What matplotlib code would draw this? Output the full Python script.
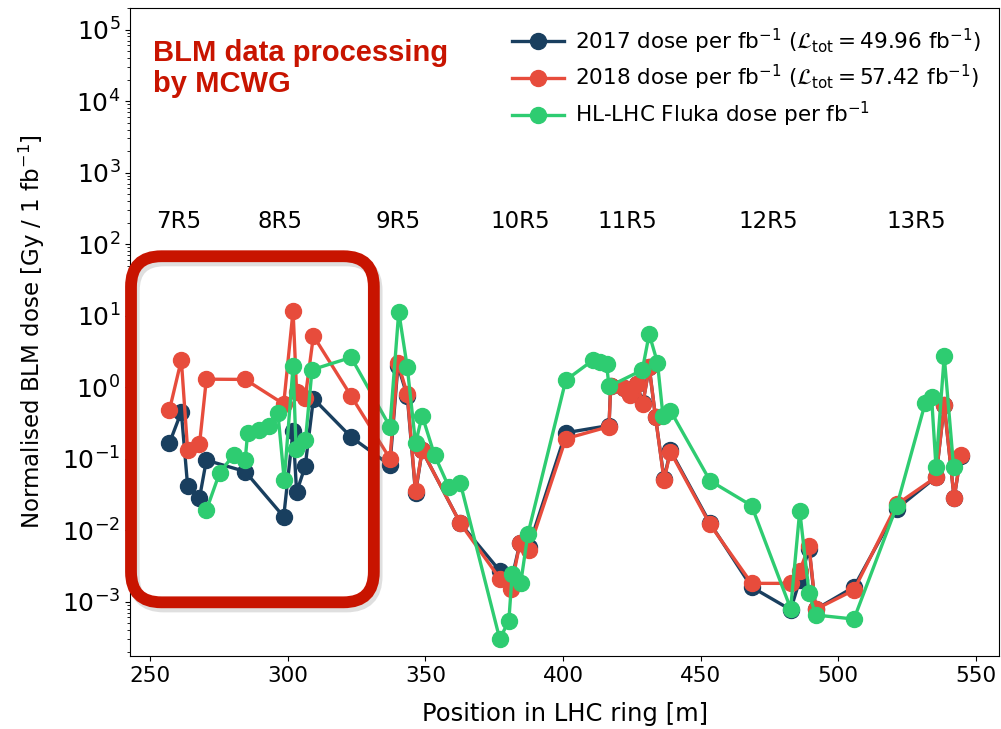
import matplotlib
matplotlib.use('Agg')
import matplotlib.pyplot as plt
from matplotlib.patches import FancyBboxPatch
from matplotlib.transforms import ScaledTranslation

# BLM positions shared by the 2017 and 2018 measurements [m]
pos_blm = [257.0, 261.3, 263.6, 267.9, 270.4, 284.5, 298.5, 301.9, 303.2, 306.3,
           309.3, 323.0, 337.1, 340.0, 343.4, 346.4, 348.8, 362.7, 377.0, 381.0,
           384.3, 387.5, 401.0, 416.7, 417.3, 422.0, 424.5, 426.8, 429.0, 431.3,
           433.6, 436.7, 439.0, 453.4, 468.5, 482.7, 486.0, 489.4, 491.8, 505.7,
           521.3, 535.5, 538.5, 542.1, 544.5]

dose_2017 = [0.166, 0.45, 0.041, 0.028, 0.095, 0.066, 0.0154, 0.245, 0.034, 0.078,
             0.69, 0.20, 0.081, 2.0, 0.75, 0.033, 0.13, 0.0124, 0.0027, 0.0018,
             0.0065, 0.0058, 0.23, 0.29, 1.05, 0.97, 0.80, 1.1, 0.60, 1.9,
             0.38, 0.052, 0.13, 0.0125, 0.0016, 0.00077, 0.002, 0.0055, 0.00078, 0.0016,
             0.020, 0.055, 0.56, 0.028, 0.11]

dose_2018 = [0.48, 2.4, 0.13, 0.158, 1.29, 1.28, 0.58, 11.7, 0.85, 0.70,
             5.2, 0.75, 0.10, 2.2, 0.80, 0.035, 0.13, 0.0124, 0.0021, 0.0015,
             0.0065, 0.0052, 0.19, 0.28, 1.05, 0.96, 0.78, 1.1, 0.58, 1.9,
             0.38, 0.050, 0.125, 0.012, 0.0018, 0.0018, 0.0027, 0.006, 0.00078, 0.00145,
             0.023, 0.055, 0.56, 0.028, 0.112]

# FLUKA simulation positions and values
pos_fluka = [270.4, 275.2, 280.3, 284.5, 285.4, 289.4, 293.0, 296.4, 298.7, 301.9,
             303.0, 306.4, 308.8, 323.0, 337.1, 340.3, 343.4, 346.4, 348.8, 353.3,
             358.5, 362.7, 377.0, 380.3, 381.5, 384.6, 387.2, 401.0, 411.0, 413.5,
             415.8, 416.7, 428.8, 431.3, 434.3, 436.3, 439.0, 453.4, 468.5, 482.7,
             486.0, 489.4, 491.8, 505.7, 521.3, 531.6, 533.9, 535.5, 538.5, 541.9]

dose_fluka = [0.019, 0.063, 0.113, 0.095, 0.23, 0.25, 0.29, 0.43, 0.05, 1.95,
              0.138, 0.18, 1.75, 2.6, 0.28, 11.3, 1.9, 0.163, 0.40, 0.112,
              0.040, 0.045, 0.0003, 0.00054, 0.0024, 0.0018, 0.0087, 1.25, 2.4, 2.25,
              2.1, 1.02, 1.73, 5.5, 2.2, 0.40, 0.47, 0.049, 0.022, 0.0008,
              0.0186, 0.0013, 0.00065, 0.00057, 0.022, 0.60, 0.73, 0.077, 2.7, 0.077]

cell_names = ['7R5', '8R5', '9R5', '10R5', '11R5', '12R5', '13R5']
cell_pos = [260.2, 297.3, 340.2, 384.5, 423.5, 474.7, 528.2]

c_2017 = '#193f5f'
c_2018 = '#e74c3c'
c_fluka = '#2ecc71'
c_mark = '#c81400'

fig = plt.figure(figsize=(10.01, 7.29), dpi=100)
ax = fig.add_axes([0.13, 0.1, 0.868, 0.889])

style = dict(marker='o', markersize=11.5, linewidth=2.4)
ax.plot(pos_blm, dose_2017, color=c_2017, zorder=3,
        label=r'2017 dose per fb$^{-1}$ ($\mathcal{L}_{\rm tot} = 49.96$ fb$^{-1}$)', **style)
ax.plot(pos_blm, dose_2018, color=c_2018, zorder=4,
        label=r'2018 dose per fb$^{-1}$ ($\mathcal{L}_{\rm tot} = 57.42$ fb$^{-1}$)', **style)
ax.plot(pos_fluka, dose_fluka, color=c_fluka, zorder=5,
        label=r'HL-LHC Fluka dose per fb$^{-1}$', **style)

ax.set_yscale('log')
ax.set_xlim(242.7, 558.4)
ax.set_ylim(1.73e-4, 2.0e5)

for name, p in zip(cell_names, cell_pos):
    ax.text(p, 205, name, ha='center', va='center', fontsize=16.5)

ax.tick_params(axis='x', labelsize=15.5)
ax.tick_params(axis='y', labelsize=18)
ax.set_xlabel('Position in LHC ring [m]', fontsize=17.5, labelpad=12)
ax.set_ylabel(r'Normalised BLM dose [Gy / 1 fb$^{-1}$]', fontsize=16.5, labelpad=11)

ax.legend(loc='upper right', fontsize=15.5, frameon=False, handlelength=2.4,
          handletextpad=0.5, borderaxespad=0.45, labelspacing=0.35)

ax.text(0.026, 0.952, 'BLM data processing\nby MCWG', transform=ax.transAxes,
        ha='left', va='top', fontsize=21, fontweight='bold', color=c_mark,
        family=['Liberation Sans', 'DejaVu Sans'], linespacing=1.12)

# rounded box around the 7R5 / 8R5 region, with a soft shadow
box_kw = dict(boxstyle='round,pad=0,rounding_size=0.035', mutation_aspect=870 / 648,
              fill=False, linewidth=8.5, clip_on=False)
shadow = FancyBboxPatch((0.001, 0.083), 0.2795, 0.534, edgecolor='gray', alpha=0.25,
                        transform=ax.transAxes + ScaledTranslation(2 / 72, -3 / 72, fig.dpi_scale_trans),
                        zorder=6, **box_kw)
box = FancyBboxPatch((0.001, 0.083), 0.2795, 0.534, edgecolor=c_mark,
                     transform=ax.transAxes, zorder=7, **box_kw)
ax.add_patch(shadow)
ax.add_patch(box)

fig.savefig('out.png', dpi=100)
